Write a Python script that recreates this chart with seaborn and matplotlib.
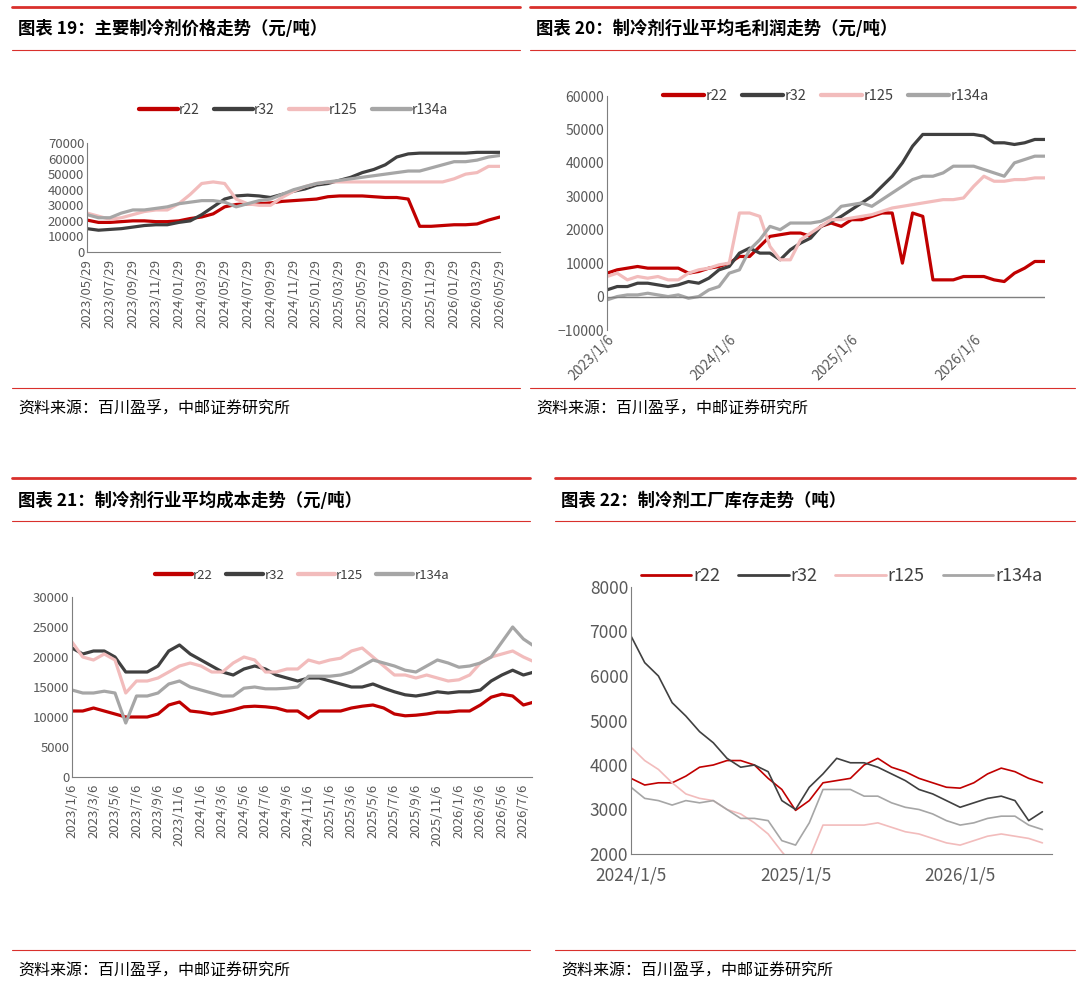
import numpy as np
import pandas as pd
import matplotlib.pyplot as plt
import seaborn as sns
from matplotlib.lines import Line2D

sns.set_style('white')
plt.rcParams['font.family'] = ['Noto Sans CJK SC', 'DejaVu Sans']

series = ['r22', 'r32', 'r125', 'r134a']
colors = {'r22': '#C00000', 'r32': '#404040', 'r125': '#F2BCBC', 'r134a': '#A6A6A6'}

# chart 19: prices, monthly 2023/05 - 2026/05
price_r22 = [20500, 19000, 19000, 19500, 20000, 20000, 19500, 19500, 20000, 21500,
             22500, 24500, 29000, 30500, 31000, 31000, 31500, 32500, 33000, 33500,
             34000, 35500, 36000, 36000, 36000, 35500, 35000, 35000, 34000, 16500,
             16500, 17000, 17500, 17500, 18000, 20500, 22500]
price_r32 = [15000, 14000, 14500, 15000, 16000, 17000, 17500, 17500, 19000, 20000,
             24000, 29000, 34000, 36000, 36500, 36000, 35000, 37000, 39000, 40500,
             43000, 44000, 46000, 48000, 51000, 53000, 56000, 61000, 63000, 63500,
             63500, 63500, 63500, 63500, 64000, 64000, 64000]
price_r125 = [25000, 23000, 21000, 22000, 24000, 26000, 27000, 27000, 31000, 37000,
              44000, 45000, 44000, 34000, 31000, 30000, 30000, 35000, 39000, 42000,
              44000, 45000, 45000, 45000, 45000, 45000, 45000, 45000, 45000, 45000,
              45000, 45000, 47000, 50000, 51000, 55000, 55000]
price_r134a = [24000, 22000, 22000, 25000, 27000, 27000, 28000, 29000, 31000, 32000,
               33000, 33000, 32000, 29000, 31000, 33000, 34000, 37000, 40000, 42000,
               44000, 45000, 46000, 47000, 48000, 49000, 50000, 51000, 52000, 52000,
               54000, 56000, 58000, 58000, 59000, 61000, 62000]
price_months = pd.date_range('2023-05-01', periods=37, freq='MS')

# chart 20: gross profit, monthly 2023/01 - 2026/08
profit_r22 = [7000, 8000, 8500, 9000, 8500, 8500, 8500, 8500, 7000, 7500, 8500, 9000,
              10000, 12000, 12000, 15000, 18000, 18500, 19000, 19000, 18000, 21000, 22000, 21000,
              23000, 23000, 24000, 25000, 25000, 10000, 25000, 24000, 5000, 5000, 5000, 6000,
              6000, 6000, 5000, 4500, 7000, 8500, 10500, 10500]
profit_r32 = [2000, 3000, 3000, 4000, 4000, 3500, 3000, 3500, 4500, 4000, 5500, 8000,
              9000, 13000, 14500, 13000, 13000, 11000, 14000, 16000, 17500, 21000, 22500, 24000,
              26000, 28000, 30000, 33000, 36000, 40000, 45000, 48500, 48500, 48500, 48500, 48500,
              48500, 48000, 46000, 46000, 45500, 46000, 47000, 47000]
profit_r125 = [6000, 7000, 5000, 6000, 5500, 6000, 5000, 5000, 7000, 8000, 8500, 9500,
               10000, 25000, 25000, 24000, 15000, 11000, 11000, 17000, 19000, 21000, 23000, 23000,
               23500, 24000, 24500, 25500, 26500, 27000, 27500, 28000, 28500, 29000, 29000, 29500,
               33000, 36000, 34500, 34500, 35000, 35000, 35500, 35500]
profit_r134a = [-1000, 0, 500, 500, 1000, 500, 0, 500, -500, 0, 2000, 3000,
                7000, 8000, 14000, 17000, 21000, 20000, 22000, 22000, 22000, 22500, 24000, 27000,
                27500, 28000, 27000, 29000, 31000, 33000, 35000, 36000, 36000, 37000, 39000, 39000,
                39000, 38000, 37000, 36000, 40000, 41000, 42000, 42000]

# chart 21: average cost, monthly 2023/01 - 2026/08
cost_r22 = [11000, 11000, 11500, 11000, 10500, 10000, 10000, 10000, 10500, 12000, 12500, 11000,
            10800, 10500, 10800, 11200, 11700, 11800, 11700, 11500, 11000, 11000, 9800, 11000,
            11000, 11000, 11500, 11800, 12000, 11500, 10500, 10200, 10300, 10500, 10800, 10800,
            11000, 11000, 12000, 13300, 13800, 13500, 12000, 12500]
cost_r32 = [21500, 20500, 21000, 21000, 20000, 17500, 17500, 17500, 18500, 21000, 22000, 20500,
            19500, 18500, 17500, 17000, 18000, 18500, 18000, 17000, 16500, 16000, 16500, 16500,
            16000, 15500, 15000, 15000, 15500, 14800, 14200, 13700, 13500, 13800, 14200, 14000,
            14200, 14200, 14500, 16000, 17000, 17800, 17000, 17500]
cost_r125 = [22500, 20000, 19500, 20500, 19500, 14000, 16000, 16000, 16500, 17500, 18500, 19000,
             18500, 17500, 17500, 19000, 20000, 19500, 17500, 17500, 18000, 18000, 19500, 19000,
             19500, 19800, 21000, 21500, 20000, 18500, 17000, 17000, 16500, 17000, 16500, 16000,
             16200, 17000, 19000, 20000, 20500, 21000, 20000, 19200]
cost_r134a = [14500, 14000, 14000, 14300, 14000, 9000, 13500, 13500, 14000, 15500, 16000, 15000,
              14500, 14000, 13500, 13500, 14800, 15000, 14700, 14700, 14800, 15000, 16800, 16800,
              16800, 17000, 17500, 18500, 19500, 19000, 18500, 17800, 17500, 18500, 19500, 19000,
              18300, 18500, 19000, 20000, 22500, 25000, 23000, 21800]

# chart 22: factory inventory, monthly 2024/01 - 2026/07
stock_r22 = [3700, 3550, 3600, 3600, 3750, 3950, 4000, 4100, 4100, 4000, 3700, 3450,
             2980, 3200, 3600, 3650, 3700, 4000, 4150, 3950, 3850, 3700, 3600, 3500,
             3480, 3600, 3800, 3930, 3850, 3700, 3600]
stock_r32 = [6900, 6300, 6000, 5400, 5100, 4750, 4500, 4150, 3950, 4000, 3850, 3200,
             3000, 3500, 3800, 4150, 4050, 4050, 3950, 3800, 3650, 3450, 3350, 3200,
             3050, 3150, 3250, 3300, 3200, 2750, 2950]
stock_r125 = [4400, 4100, 3900, 3600, 3350, 3250, 3200, 3000, 2900, 2700, 2450, 2050,
              1700, 1900, 2650, 2650, 2650, 2650, 2700, 2600, 2500, 2450, 2350, 2250,
              2200, 2300, 2400, 2450, 2400, 2350, 2250]
stock_r134a = [3500, 3250, 3200, 3100, 3200, 3150, 3200, 3000, 2800, 2800, 2750, 2300,
               2200, 2700, 3450, 3450, 3450, 3300, 3300, 3150, 3050, 3000, 2900, 2750,
               2650, 2700, 2800, 2850, 2850, 2650, 2550]


def long_df(vals):
    rows = []
    for name, v in zip(series, vals):
        for i, y in enumerate(v):
            rows.append({'x': i, 'y': y, 'name': name})
    return pd.DataFrame(rows)


def draw(ax, vals, lw, legend_y, fsize, lg_fs):
    df = long_df(vals)
    sns.lineplot(data=df, x='x', y='y', hue='name', palette=colors, ax=ax,
                 linewidth=lw, legend=False)
    for s in ['top', 'right']:
        ax.spines[s].set_visible(False)
    ax.spines['left'].set_color('#7f7f7f')
    ax.spines['bottom'].set_color('#7f7f7f')
    ax.set_xlabel('')
    ax.set_ylabel('')
    ax.tick_params(colors='#595959', labelsize=fsize, length=0, pad=2)
    handles = [Line2D([0], [0], color=colors[s], lw=lw + 0.8) for s in series]
    ax.legend(handles, series, ncol=4, frameon=False, fontsize=lg_fs, loc='center',
              bbox_to_anchor=(0.5, legend_y), handlelength=2.8, handletextpad=0.1,
              columnspacing=1.0, labelcolor='#404040')


fig = plt.figure(figsize=(10.8, 9.99), dpi=100)
W, H = 1080, 999


def axes_px(x0, y0, x1, y1):
    return fig.add_axes([x0 / W, 1 - y1 / H, (x1 - x0) / W, (y1 - y0) / H])


def hline(x0, x1, y, lw):
    fig.add_artist(Line2D([x0 / W, x1 / W], [1 - y / H, 1 - y / H], color='#D9302C', lw=lw))


# frames, titles, sources
for x0, x1, y_top, y_title, y_mid, y_foot, y_src, title in [
        (12, 520, 7, 29, 50, 388, 408, '图表 19：主要制冷剂价格走势（元/吨）'),
        (530, 1075, 7, 29, 50, 388, 408, '图表 20：制冷剂行业平均毛利润走势（元/吨）'),
        (12, 530, 478, 501, 521, 950, 970, '图表 21：制冷剂行业平均成本走势（元/吨）'),
        (555, 1075, 478, 501, 521, 950, 970, '图表 22：制冷剂工厂库存走势（吨）')]:
    hline(x0, x1, y_top, 2.0)
    hline(x0, x1, y_mid, 0.8)
    hline(x0, x1, y_foot, 0.8)
    fig.text((x0 + 6) / W, 1 - y_title / H, title, fontsize=12.5, fontweight='bold',
             va='center', color='#000000')
    fig.text((x0 + 6) / W, 1 - y_src / H, '资料来源：百川盈孚，中邮证券研究所', fontsize=11.5,
             va='center', color='#000000')

# chart 19
ax1 = axes_px(87, 143, 500, 252)
draw(ax1, [price_r22, price_r32, price_r125, price_r134a], 2.3, 1.3, 9.5, 10)
ax1.set_ylim(0, 70000)
ax1.set_yticks(range(0, 70001, 10000))
ax1.set_xlim(0, 36)
ax1.set_xticks(range(0, 37, 2))
ax1.set_xticklabels([d.strftime('%Y/%m/29') for d in price_months[::2]], rotation=90)
ax1.tick_params(axis='x', pad=5)

# chart 20
ax2 = axes_px(607, 96, 1045, 330)
draw(ax2, [profit_r22, profit_r32, profit_r125, profit_r134a], 2.3, 1.0, 10, 10.5)
ax2.set_ylim(-10000, 60000)
ax2.set_yticks(range(-10000, 60001, 10000))
ax2.set_xlim(0, 43)
ax2.spines['bottom'].set_visible(False)
ax2.axhline(0, color='#7f7f7f', lw=1)
ax2.set_xticks([0, 12, 24, 36])
ax2.set_xticklabels(['2023/1/6', '2024/1/6', '2025/1/6', '2026/1/6'], rotation=45,
                    ha='right', rotation_mode='anchor')

# chart 21
ax3 = axes_px(72, 597, 532, 777)
draw(ax3, [cost_r22, cost_r32, cost_r125, cost_r134a], 2.3, 1.12, 9.5, 9.5)
ax3.set_ylim(0, 30000)
ax3.set_yticks(range(0, 30001, 5000))
ax3.set_xlim(0, 42.8)
ax3.set_xticks(range(0, 43, 2))
ax3.set_xticklabels([f'{2023 + m // 12}/{m % 12 + 1}/6' for m in range(0, 43, 2)], rotation=90)
ax3.tick_params(axis='x', pad=5)

# chart 22
ax4 = axes_px(631, 587, 1052, 854)
draw(ax4, [stock_r22, stock_r32, stock_r125, stock_r134a], 1.2, 1.04, 12.5, 13)
ax4.set_ylim(2000, 8000)
ax4.set_yticks(range(2000, 8001, 1000))
ax4.set_xlim(0, 30.7)
ax4.set_xticks([0, 12, 24])
ax4.set_xticklabels(['2024/1/5', '2025/1/5', '2026/1/5'])
ax4.tick_params(axis='x', pad=9)

fig.savefig('out.png', dpi=100)
